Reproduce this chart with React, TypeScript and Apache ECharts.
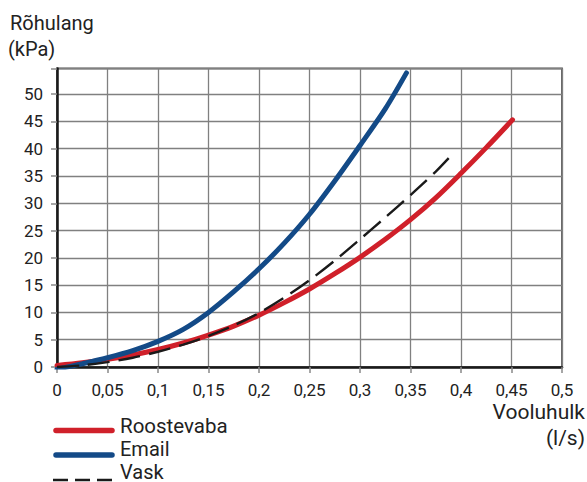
import React, { useEffect, useRef } from "react";
import * as echarts from "echarts";

const roostevabaX = [0, 0.025, 0.05, 0.075, 0.1, 0.125, 0.15, 0.175, 0.2, 0.225, 0.25, 0.275, 0.3, 0.325, 0.35, 0.375, 0.4, 0.425, 0.451];
const roostevabaY = [0.3, 0.8, 1.4, 2.2, 3.2, 4.4, 5.85, 7.5, 9.5, 11.8, 14.3, 17.1, 20.1, 23.4, 27.0, 31.0, 35.5, 40.2, 45.3];
const emailX = [0, 0.025, 0.05, 0.075, 0.1, 0.125, 0.15, 0.175, 0.2, 0.225, 0.25, 0.275, 0.3, 0.325, 0.346];
const emailY = [-0.4, 0.6, 1.7, 3.0, 4.7, 6.9, 10.0, 13.8, 18.0, 22.7, 28.0, 34.1, 40.6, 47.3, 53.9];
const vaskX = [0, 0.025, 0.05, 0.075, 0.1, 0.125, 0.15, 0.175, 0.2, 0.225, 0.25, 0.275, 0.3, 0.325, 0.35, 0.375, 0.391];
const vaskY = [0, 0.3, 0.9, 1.7, 2.8, 4.1, 5.7, 7.6, 9.9, 12.7, 15.9, 19.5, 23.4, 27.4, 31.5, 35.8, 38.9];

const legendNames = ["Roostevaba", "Email", "Vask"];
const yTitle = ["Rõhulang", "(kPa)"];
const xTitle = ["Vooluhulk", "(l/s)"];

const FONT = "Roboto";

function pairs(xs: number[], ys: number[]) {
  return xs.map((x, i) => [x, ys[i]]);
}

export default function App() {
  const ref = useRef<HTMLDivElement>(null);
  useEffect(() => {
    if (!ref.current) return;
    const chart = echarts.init(ref.current, null, { renderer: "svg" });
    const colors = ["#d0202a", "#134a87", "#1a1a1a"];
    const txt = (text: string, x: number, y: number, size: number, align = "left", va = "middle") => ({
      type: "text",
      x,
      y,
      style: { text, fontFamily: FONT, fontSize: size, fill: "#222", align, verticalAlign: va },
    });
    chart.setOption({
      animation: false,
      grid: {
        left: 57,
        right: 25,
        top: 68.5,
        bottom: 115,
        show: true,
        borderColor: "#666",
        borderWidth: 2,
      },
      xAxis: {
        type: "value",
        min: 0,
        max: 0.5,
        interval: 0.05,
        axisLine: { show: true, onZero: false, lineStyle: { color: "#1a1a1a", width: 2.5 } },
        axisTick: { show: true, length: 6, lineStyle: { color: "#888", width: 1.5 } },
        splitLine: { show: true, lineStyle: { color: "#808080", width: 1.3 } },
        axisLabel: {
          fontFamily: FONT,
          fontSize: 17,
          color: "#222",
          margin: 14,
          formatter: (v: number) => String(+v.toFixed(2)).replace(".", ","),
        },
      },
      yAxis: {
        type: "value",
        min: 0,
        max: 54.7,
        interval: 5,
        axisLine: { show: true, onZero: false, lineStyle: { color: "#1a1a1a", width: 2.5 } },
        axisTick: { show: true, length: 6, lineStyle: { color: "#888", width: 1.5 } },
        splitLine: { show: true, lineStyle: { color: "#808080", width: 1.3 } },
        axisLabel: {
          fontFamily: FONT,
          fontSize: 17,
          color: "#222",
          margin: 14,
          formatter: (v: number) => (Math.abs(v % 5) < 1e-6 ? String(v) : ""),
        },
      },
      series: [
        {
          name: legendNames[0],
          type: "line",
          smooth: 0.3,
          showSymbol: false,
          data: pairs(roostevabaX, roostevabaY),
          lineStyle: { color: colors[0], width: 5, cap: "round" },
          z: 3,
        },
        {
          name: legendNames[1],
          type: "line",
          smooth: 0.3,
          showSymbol: false,
          data: pairs(emailX, emailY),
          lineStyle: { color: colors[1], width: 5, cap: "round" },
          z: 3,
        },
        {
          name: legendNames[2],
          type: "line",
          smooth: 0.3,
          showSymbol: false,
          data: pairs(vaskX, vaskY),
          lineStyle: { color: colors[2], width: 2.4, type: [22, 9] },
          z: 4,
        },
      ],
      graphic: [
        txt(yTitle[0], 10, 23, 20),
        txt(yTitle[1], 8, 49, 20),
        txt(xTitle[0], 585, 412, 21, "right"),
        txt(xTitle[1], 585, 438, 21, "right"),
        { type: "line", shape: { x1: 56, y1: 430.5, x2: 112, y2: 430.5 }, style: { stroke: colors[0], lineWidth: 5.5, lineCap: "round" } },
        txt(legendNames[0], 120, 426, 20.5),
        { type: "line", shape: { x1: 56, y1: 455, x2: 112, y2: 455 }, style: { stroke: colors[1], lineWidth: 5.5, lineCap: "round" } },
        txt(legendNames[1], 120, 449, 20),
        { type: "line", shape: { x1: 53, y1: 480, x2: 113, y2: 480 }, style: { stroke: colors[2], lineWidth: 2.5, lineDash: [15, 7] } },
        txt(legendNames[2], 120, 471.5, 20),
      ],
    });
    return () => chart.dispose();
  }, []);
  return (
    <div
      ref={ref}
      style={{ position: "absolute", left: 0, top: 0, width: 587, height: 482, background: "#fff" }}
    />
  );
}
